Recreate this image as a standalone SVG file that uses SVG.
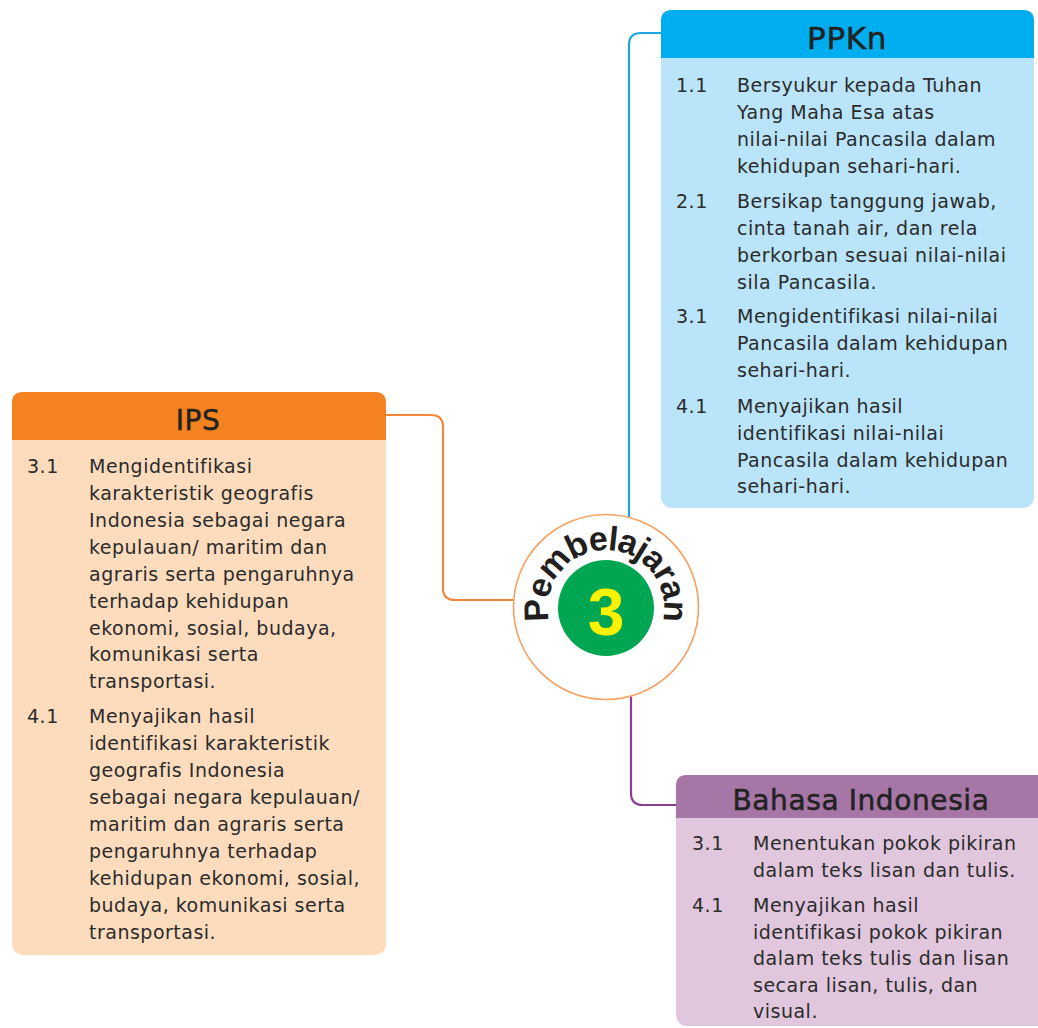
<svg xmlns="http://www.w3.org/2000/svg" width="1038" height="1028" viewBox="0 0 1038 1028">
<style>
.body{font-family:"DejaVu Sans",sans-serif;font-size:19px;letter-spacing:0.5px;fill:#2b2b2b}
.head{font-family:"DejaVu Sans",sans-serif;fill:#222;stroke:#222;stroke-width:0.5;text-anchor:middle;letter-spacing:0.6px}
.conn{fill:none;stroke-width:2.2;stroke-linecap:round}
</style>
<rect width="1038" height="1028" fill="#ffffff"/>
<g id="connectors">
<path class="conn" stroke="#1da6e0" d="M661 33 H641 Q629 33 629 45 V517"/>
<path class="conn" stroke="#f4883a" d="M386 415 H431 Q443 415 443 427 V588 Q443 600 455 600 H513"/>
<path class="conn" stroke="#8a3f8c" d="M631 695 V793 Q631 805 643 805 H676"/>
</g>
<g id="center">
<circle cx="606" cy="607" r="92.5" fill="#ffffff" stroke="#f6a060" stroke-width="1.6"/>
<circle cx="606" cy="608" r="48" fill="#00a651"/>
<text x="606" y="635" font-family="Liberation Sans, sans-serif" font-weight="bold" font-size="66" fill="#fff200" text-anchor="middle">3</text>
<path id="arc" d="M549.7 622 A58 58 0 1 1 662.3 622" fill="none"/>
<text font-family="Liberation Sans, sans-serif" font-weight="bold" font-size="34" fill="#231f20"><textPath href="#arc" startOffset="50%" text-anchor="middle" textLength="208" lengthAdjust="spacing">Pembelajaran</textPath></text>
</g>
<g id="ppkn">
<rect x="661" y="10" width="373" height="498" rx="11" fill="#b9e4f9"/>
<path d="M661 58 V21 Q661 10 672 10 H1023 Q1034 10 1034 21 V58 Z" fill="#00aeef"/>
<text class="head" x="847" y="49" font-size="31">PPKn</text>
<text class="body"><tspan x="676" y="92">1.1</tspan><tspan x="737" y="92">Bersyukur kepada Tuhan</tspan><tspan x="737" y="119">Yang Maha Esa atas</tspan><tspan x="737" y="146">nilai-nilai Pancasila dalam</tspan><tspan x="737" y="173">kehidupan sehari-hari.</tspan></text>
<text class="body"><tspan x="676" y="208">2.1</tspan><tspan x="737" y="208">Bersikap tanggung jawab,</tspan><tspan x="737" y="235">cinta tanah air, dan rela</tspan><tspan x="737" y="262">berkorban sesuai nilai-nilai</tspan><tspan x="737" y="289">sila Pancasila.</tspan></text>
<text class="body"><tspan x="676" y="323">3.1</tspan><tspan x="737" y="323">Mengidentifikasi nilai-nilai</tspan><tspan x="737" y="350">Pancasila dalam kehidupan</tspan><tspan x="737" y="377">sehari-hari.</tspan></text>
<text class="body"><tspan x="676" y="413">4.1</tspan><tspan x="737" y="413">Menyajikan hasil</tspan><tspan x="737" y="440">identifikasi nilai-nilai</tspan><tspan x="737" y="467">Pancasila dalam kehidupan</tspan><tspan x="737" y="493">sehari-hari.</tspan></text>
</g>
<g id="ips">
<rect x="12" y="392" width="374" height="563" rx="11" fill="#fddcbe"/>
<path d="M12 440 V403 Q12 392 23 392 H375 Q386 392 386 403 V440 Z" fill="#f58220"/>
<text class="head" x="198" y="430" font-size="28">IPS</text>
<text class="body"><tspan x="27" y="473">3.1</tspan><tspan x="89" y="473">Mengidentifikasi</tspan><tspan x="89" y="500">karakteristik geografis</tspan><tspan x="89" y="527">Indonesia sebagai negara</tspan><tspan x="89" y="554">kepulauan/ maritim dan</tspan><tspan x="89" y="581">agraris serta pengaruhnya</tspan><tspan x="89" y="608">terhadap kehidupan</tspan><tspan x="89" y="635">ekonomi, sosial, budaya,</tspan><tspan x="89" y="661">komunikasi serta</tspan><tspan x="89" y="688">transportasi.</tspan></text>
<text class="body"><tspan x="27" y="723">4.1</tspan><tspan x="89" y="723">Menyajikan hasil</tspan><tspan x="89" y="750">identifikasi karakteristik</tspan><tspan x="89" y="777">geografis Indonesia</tspan><tspan x="89" y="804">sebagai negara kepulauan/</tspan><tspan x="89" y="831">maritim dan agraris serta</tspan><tspan x="89" y="858">pengaruhnya terhadap</tspan><tspan x="89" y="885">kehidupan ekonomi, sosial,</tspan><tspan x="89" y="912">budaya, komunikasi serta</tspan><tspan x="89" y="939">transportasi.</tspan></text>
</g>
<g id="bahasa">
<rect x="676" y="775" width="380" height="251" rx="11" fill="#e1c7dd"/>
<path d="M676 818 V786 Q676 775 687 775 H1056 V818 Z" fill="#a576a6"/>
<text class="head" x="861" y="810" font-size="28">Bahasa Indonesia</text>
<text class="body"><tspan x="692" y="850">3.1</tspan><tspan x="753" y="850">Menentukan pokok pikiran</tspan><tspan x="753" y="877">dalam teks lisan dan tulis.</tspan></text>
<text class="body"><tspan x="692" y="912">4.1</tspan><tspan x="753" y="912">Menyajikan hasil</tspan><tspan x="753" y="939">identifikasi pokok pikiran</tspan><tspan x="753" y="965">dalam teks tulis dan lisan</tspan><tspan x="753" y="992">secara lisan, tulis, dan</tspan><tspan x="753" y="1018">visual.</tspan></text>
</g>
</svg>
